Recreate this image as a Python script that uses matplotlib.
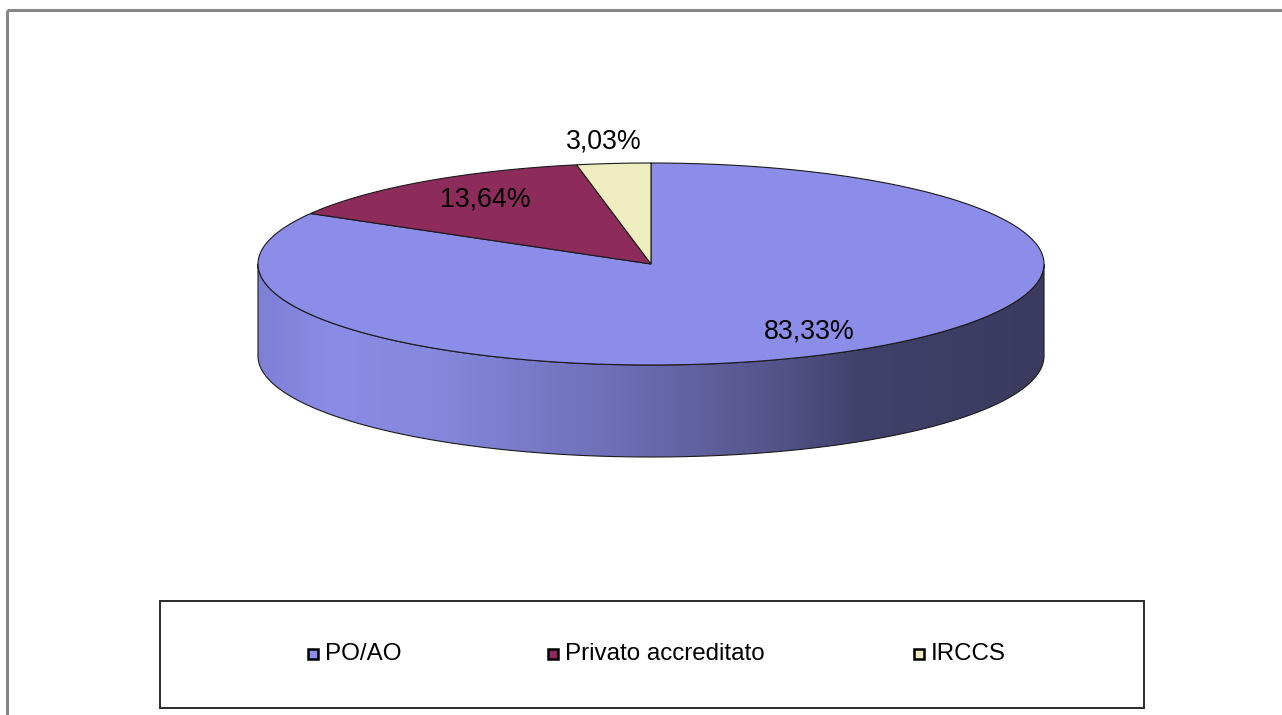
import numpy as np
import matplotlib
matplotlib.use("Agg")
import matplotlib.pyplot as plt
from matplotlib.patches import Polygon, Rectangle
from matplotlib.colors import LinearSegmentedColormap

plt.rcParams['font.family'] = ['Liberation Sans', 'DejaVu Sans']

# ---- data ----
categories = ["PO/AO", "Privato accreditato", "IRCCS"]
values = [83.33, 13.64, 3.03]
labels = ["83,33%", "13,64%", "3,03%"]
top_colors = ["#8B8DE9", "#8D2C5A", "#EEEDC0"]

# ---- layout (pixel space) ----
W, H = 1282, 715
fig = plt.figure(figsize=(W / 100, H / 100), dpi=100)
ax = fig.add_axes([0, 0, 1, 1])
ax.set_xlim(0, W)
ax.set_ylim(H, 0)
ax.axis("off")
fig.patch.set_facecolor("white")

cx, cy, rx, ry, depth = 651, 264, 393, 101, 92

def pt(theta_deg, dy=0.0):
    t = np.deg2rad(theta_deg)
    return cx + rx * np.cos(t), cy - ry * np.sin(t) + dy

total = sum(values)
fracs = np.cumsum([0] + values) / total
angles = 90 - 360 * fracs  # clockwise from 12 o'clock

# ---- side (front half) with horizontal gradient ----
side_stops = [(0.0, "#7E80D6"), (0.09, "#8A8CE6"), (0.22, "#8688DE"),
              (0.47, "#6C6DB2"), (0.64, "#56578E"), (0.77, "#40416A"),
              (1.0, "#3A3B5E")]
side_cmap = LinearSegmentedColormap.from_list("side", side_stops)
for i in range(len(values)):
    th = np.linspace(angles[i], angles[i + 1], 600)
    th_n = np.mod(th, 360)
    mask = (th_n >= 180) & (th_n <= 360)
    if mask.sum() < 2:
        continue
    ths = th[mask]
    xs, ys = pt(ths)
    xb, yb = pt(ths[::-1], depth)
    poly = np.column_stack([np.r_[xs, xb], np.r_[ys, yb]])
    if i == 0:
        grad = np.linspace(0, 1, 512).reshape(1, -1)
        im = ax.imshow(grad, cmap=side_cmap, aspect="auto",
                       extent=[cx - rx, cx + rx, cy + ry + depth, cy - ry],
                       zorder=1, interpolation="bilinear")
        clip = Polygon(poly, closed=True, transform=ax.transData,
                       facecolor="none", edgecolor="none")
        ax.add_patch(clip)
        im.set_clip_path(clip)
    else:
        ax.add_patch(Polygon(poly, closed=True, facecolor=top_colors[i],
                             edgecolor="none", zorder=1))
    ax.add_patch(Polygon(poly, closed=True, facecolor="none",
                         edgecolor="#1a1a1a", lw=0.8, zorder=2))

# ---- top wedges ----
for i in range(len(values)):
    th = np.linspace(angles[i], angles[i + 1], 400)
    xs, ys = pt(th)
    poly = np.column_stack([np.r_[cx, xs], np.r_[cy, ys]])
    ax.add_patch(Polygon(poly, closed=True, facecolor=top_colors[i],
                         edgecolor="#1a1a1a", lw=0.8, zorder=3))

# ---- labels ----
label_pos = [(809, 332), (485, 200), (604, 142)]
for lab, (lx, ly) in zip(labels, label_pos):
    ax.text(lx, ly, lab, ha="center", va="center", fontsize=19.3,
            color="black", zorder=5)

# ---- legend ----
ax.add_patch(Rectangle((160, 601), 984, 107, facecolor="white",
                       edgecolor="#2a2a2a", lw=1.4, zorder=4))
leg_x = [312.5, 552.5, 918.5]
for cat, col, lx in zip(categories, top_colors, leg_x):
    ax.add_patch(Rectangle((lx - 5, 649), 10, 10, facecolor=col,
                           edgecolor="black", lw=1.8, zorder=5))
    ax.text(lx + 12.5, 654, cat, ha="left", va="center", fontsize=17.4,
            color="black", zorder=5)

# ---- outer frame (top and left visible) ----
ax.plot([7, W], [10, 10], color="#878787", lw=2.2, zorder=6,
        solid_capstyle="butt")
ax.plot([7, 7], [10, H], color="#878787", lw=2.2, zorder=6,
        solid_capstyle="butt")

fig.savefig("out.png", dpi=100)
